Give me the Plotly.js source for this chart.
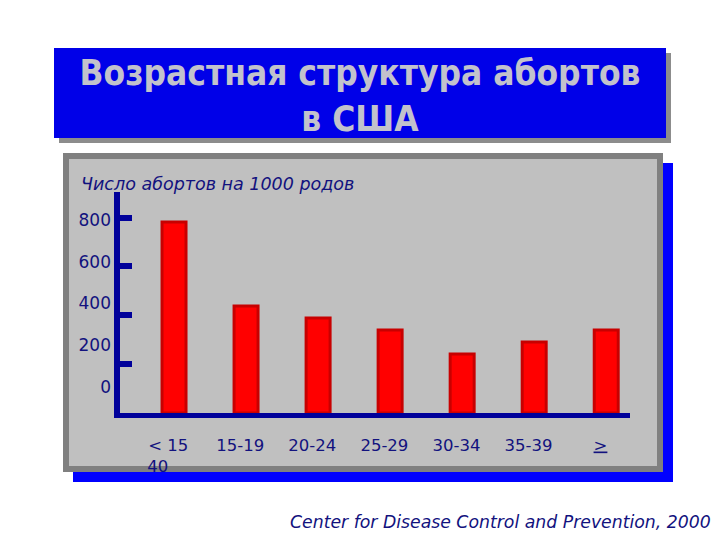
<!DOCTYPE html>
<html>
<head>
<meta charset="utf-8">
<script src="https://cdn.plot.ly/plotly-3.0.1.min.js"></script>
<style>html,body{margin:0;padding:0;background:#fff;}#chart{width:720px;height:540px;}</style>
</head>
<body>
<div id="chart"></div>
<script>
// ---- data ----
const categories = ["< 15", "15-19", "20-24", "25-29", "30-34", "35-39", "≥ 40"];
const abortionsPer1000 = [782, 438, 389, 340, 241, 291, 340];
const xTickLabels = ["< 15<br>40&nbsp;&nbsp;&nbsp;&nbsp;", "15-19", "20-24", "25-29", "30-34", "35-39", "<u>&gt;</u>"];
const yTickValues = [0, 200, 400, 600, 800];
const yTickLabels = ["0", "200", "400", "600", "800"];
const titleText = "Возрастная структура абортов<br>в США";
const yTitleText = "Число абортов на 1000 родов";
const sourceText = "Center for Disease Control and Prevention, 2000";

// ---- layout helpers (pixel -> paper) ----
const W = 720, H = 540;
const px = x => x / W;
const py = y => 1 - y / H;
const navy = "#12127e";
const axisBlue = "#00009a";

const rect = (x0, y0, x1, y1, fill, line) => ({
  type: "rect", xref: "paper", yref: "paper", layer: "below",
  x0: px(x0), x1: px(x1), y0: py(y1), y1: py(y0),
  fillcolor: fill, line: line || {width: 0}
});

const shapes = [
  rect(59, 53, 671, 143, "#8c8c8c"),
  rect(54, 48, 666, 138, "#0000e8"),
  rect(73, 163, 673, 482, "#0000ff"),
  rect(66, 156, 660, 469, "#c0c0c0", {color: "#808080", width: 6})
];

const bars = {
  type: "bar",
  x: categories,
  y: abortionsPer1000,
  width: 0.333,
  marker: {color: "#ff0000", line: {color: "#c80000", width: 3}},
  hoverinfo: "skip",
  showlegend: false
};
// invisible trace to carry the label axes
const labelCarrier = {
  type: "scatter", x: categories, y: abortionsPer1000, xaxis: "x2", yaxis: "y2",
  mode: "none", hoverinfo: "skip", showlegend: false
};

const layout = {
  width: W, height: H,
  margin: {l: 0, r: 0, t: 0, b: 0},
  paper_bgcolor: "#ffffff",
  plot_bgcolor: "rgba(0,0,0,0)",
  showlegend: false,
  title: {
    text: titleText, x: 0.5, xanchor: "center", xref: "paper",
    y: py(85), yanchor: "middle", yref: "paper",
    font: {family: "DejaVu Sans Condensed, DejaVu Sans", size: 35, color: "#c2c2cc", weight: "bold"}
  },
  xaxis: {
    domain: [px(120), px(630)],
    type: "category",
    range: [-0.75, 6.33],
    showline: true, linecolor: axisBlue, linewidth: 5,
    showgrid: false, zeroline: false,
    ticks: "", showticklabels: false,
    fixedrange: true
  },
  xaxis2: {
    overlaying: "x", anchor: "y", side: "bottom",
    domain: [px(120), px(630)],
    type: "category",
    range: [-0.67, 6.41],
    showline: false, showgrid: false, zeroline: false,
    ticks: "", tickvals: categories, ticktext: xTickLabels,
    ticklabelstandoff: 20,
    tickfont: {family: "DejaVu Sans", size: 16.5, color: navy},
    fixedrange: true
  },
  yaxis: {
    domain: [py(413), py(192)],
    range: [0, 904.6],
    showline: true, linecolor: axisBlue, linewidth: 6,
    showgrid: false, zeroline: false,
    ticks: "inside", ticklen: 12, tickwidth: 6, tickcolor: axisBlue,
    tickvals: [200, 400, 600, 800], showticklabels: false,
    fixedrange: true
  },
  yaxis2: {
    overlaying: "y", side: "left", anchor: "x",
    range: [-124.5, 934],
    showline: false, showgrid: false, zeroline: false,
    ticks: "", tickvals: yTickValues, ticktext: yTickLabels,
    ticklabelstandoff: 8,
    tickfont: {family: "DejaVu Sans", size: 17, color: navy},
    fixedrange: true
  },
  shapes: shapes,
  annotations: [
    {text: yTitleText, xref: "paper", yref: "paper", x: px(79), y: py(184),
     xanchor: "left", yanchor: "middle", showarrow: false,
     font: {family: "DejaVu Sans", size: 17.5, color: navy, style: "italic"}},
    {text: sourceText, xref: "paper", yref: "paper", x: px(713), y: py(522),
     xanchor: "right", yanchor: "middle", showarrow: false,
     font: {family: "DejaVu Sans", size: 17.3, color: navy, style: "italic"}}
  ]
};

Plotly.newPlot("chart", [bars, labelCarrier], layout, {displayModeBar: false, staticPlot: true});
</script>
</body>
</html>
